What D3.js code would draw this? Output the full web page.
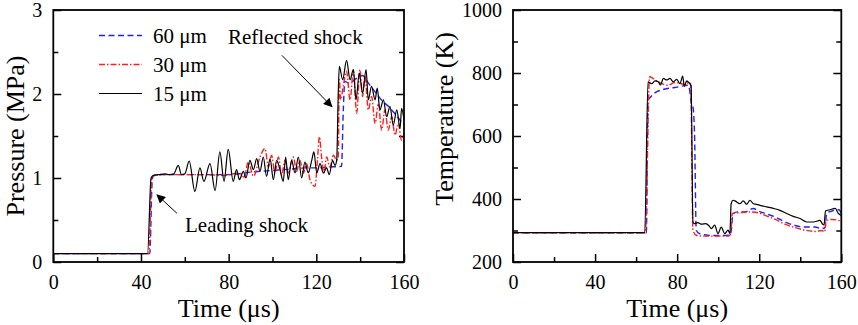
<!DOCTYPE html>
<html>
<head>
<meta charset="utf-8">
<script src="https://cdn.jsdelivr.net/npm/d3@7"></script>
<style>
body { margin: 0; background: #fff; }
svg text { font-family: "Liberation Serif", "Times New Roman", Tinos, "DejaVu Serif", serif !important; fill: #000; }
</style>
</head>
<body>
<script>
// ---- data: [time (µs), value] ----
var p60 = [[0,0.1],[44,0.1],[45.2,1.0],[46,1.03],[50,1.04],[60,1.04],[70,1.04],[80,1.04],[85,1.05],[90,1.07],[95,1.08],[100,1.09],[105,1.10],[110,1.11],[115,1.12],[120,1.12],[125,1.13],[131.5,1.14],[132.3,1.8],[133,2.15],[135,2.13],[138,2.18],[141,2.22],[144,2.12],[147,2.02],[150,1.92],[153,1.85],[156,1.76],[160,1.63]];
var p30 = [[0,0.1],[43.6,0.1],[45,1.0],[46,1.03],[50,1.04],[60,1.04],[70,1.04],[78,1.03],[82,1.05],[85,1.06],[87,1.01],[89,1.19],[91.3,1.02],[94.3,1.25],[96.6,1.35],[98.1,1.13],[99.6,1.27],[101.1,1.06],[102.7,1.25],[104.2,1.04],[105.7,1.21],[107.2,1.06],[109.5,1.25],[111,1.08],[112.5,1.21],[114.1,1.06],[115.6,1.17],[117.1,0.98],[119.4,0.90],[120.5,1.21],[121.4,1.49],[122.4,1.25],[123.5,1.06],[124.7,1.25],[126.2,1.13],[127.8,1.27],[129.3,1.21],[130,1.25],[130.5,2.17],[131.1,1.93],[132.3,2.1],[133.8,2.27],[135.4,1.93],[136.9,2.29],[138.4,1.77],[139.9,2.29],[141.1,1.97],[142.2,2.21],[143.7,1.81],[145.2,1.97],[146.8,1.65],[148.3,1.88],[149.8,1.57],[151.3,1.81],[152.8,1.57],[154.4,1.73],[155.9,1.51],[157.4,1.65],[158.9,1.45],[160,1.53]];
var p15 = [[0,0.1],[43,0.1],[44.6,1.0],[45.5,1.03],[48,1.04],[51,1.05],[53,1.04],[55,1.05],[57,1.15],[58.5,1.04],[60,1.05],[62,1.20],[64.6,0.84],[66.9,1.12],[68.7,0.96],[71.5,1.17],[73.8,0.85],[76,1.31],[77.9,0.96],[79.8,1.34],[82.1,0.96],[83.6,1.10],[84.9,0.98],[86.7,1.08],[87.9,1.0],[89.7,1.21],[91.3,1.10],[92.8,1.23],[94.3,1.08],[95.8,1.25],[97.3,1.02],[98.9,1.23],[100.4,0.98],[101.9,1.21],[103.4,1.10],[104.9,0.96],[106,1.25],[107.2,0.98],[108.7,1.21],[110.3,1.06],[111.8,1.25],[113.3,1.0],[114.8,1.19],[116.3,1.06],[117.9,1.21],[118.9,1.31],[120.2,1.06],[121.7,1.17],[123.2,1.06],[124.7,1.12],[125.9,1.04],[127.4,1.21],[128.5,1.15],[129.3,1.21],[130,2.0],[130.5,2.33],[132,2.17],[133.8,2.40],[135.4,2.17],[136.9,2.29],[138.1,1.93],[139.6,2.25],[141.1,2.01],[142.7,2.29],[143.7,1.93],[145.2,2.09],[146.8,1.93],[147.8,2.07],[149,1.81],[150.6,1.93],[152.1,1.73],[153.6,1.85],[155.1,1.63],[156.7,1.81],[158.2,1.59],[158.9,1.83],[160,1.69]];

var T60 = [[0,293],[65,293],[65.8,714],[67.1,724],[69.1,737],[72.3,746],[75.6,751],[78.8,754],[82.1,758],[85.3,761],[86.1,746],[86.9,703],[87.7,693],[88.5,600],[89.3,301],[90.9,290],[95,285],[100,284],[105.6,285],[106.4,300],[107.2,354],[109.6,359],[113,359],[117,370],[119.6,362],[122.9,354],[127.8,343],[132.6,327],[137.5,316],[142.4,311],[147.2,311],[150.5,306],[152.2,310],[152.8,354],[155.5,362],[158.8,366],[160,354]];
var T30 = [[0,293],[64.5,293],[66.6,788],[68.2,783],[70.7,772],[72.3,767],[75.6,761],[78.8,770],[82.1,766],[84.5,761],[85.6,772],[86.6,760],[87.7,301],[89.3,285],[93.4,282],[101.5,282],[105.1,282],[106.1,290],[106.9,354],[109.9,356],[114.7,359],[119.6,356],[122.9,348],[127.8,335],[132.6,320],[137.5,309],[142.4,301],[147.2,297],[150.5,300],[151.9,296],[152.6,332],[155.5,335],[160,330]];
var T15 = [[0,293],[64.2,293],[65.8,772],[67.6,766],[69.2,775],[70.8,772],[71.9,762],[73.3,783],[74.9,778],[76.5,783],[78.1,772],[79.8,780],[81.4,766],[82.7,790],[83.5,758],[84.6,775],[85.9,768],[86.8,760],[87.7,327],[88.5,322],[90,325],[92,320],[94,322],[95.5,315],[96.7,306],[98.3,317],[99.9,290],[101.5,311],[103.2,290],[104.8,301],[105.7,290],[106.3,385],[107.3,396],[108.2,394],[110.6,385],[112.2,394],[113.9,383],[115.5,396],[117.1,385],[118.7,383],[120.4,380],[123.6,375],[126.9,370],[130.1,364],[133.4,354],[136.6,345],[139.9,338],[143.1,327],[146.4,327],[149.6,332],[150.9,320],[151.6,318],[152.3,362],[154.5,366],[157,370],[158.6,354],[160,348]];

var xMajor = [0, 40, 80, 120, 160];
var xMinor = [20, 60, 100, 140];
var pMajor = [0, 1, 2, 3];
var pMinor = [0.5, 1.5, 2.5];
var tMajor = [200, 400, 600, 800, 1000];
var tMinor = [300, 500, 700, 900];
var legendLabels = ["60 μm", "30 μm", "15 μm"];
// annotation text and arrows in data units
var noteTexts = [["Reflected shock", 79.7, 2.60], ["Leading shock", 60.1, 0.36]];
var noteArrows = [[104.3, 2.46, 127.1, 1.85], [56.4, 0.58, 47.3, 0.80]];

var FONT = '"Liberation Serif", "Times New Roman", Tinos, "DejaVu Serif", serif';

var styles = [
  { color: "#1f1fff", dash: "6,3.5", w: 1.4 },
  { color: "#ff1f1f", dash: "6,2,1.5,2", w: 1.4 },
  { color: "#000", dash: null, w: 1.2 }
];

var svg = d3.select("body").append("svg")
  .attr("width", 858)
  .attr("height", 325)
  .attr("font-family", FONT);

svg.append("defs").append("marker")
  .attr("id", "arrow")
  .attr("viewBox", "0 0 10 10")
  .attr("refX", 9).attr("refY", 5)
  .attr("markerWidth", 13).attr("markerHeight", 9)
  .attr("markerUnits", "userSpaceOnUse")
  .attr("orient", "auto")
  .append("path")
  .attr("d", "M0,0 L10,5 L0,10 z")
  .attr("fill", "#000");

function panel(x0, x1, yDomain, yMaj, yMin, series, yTitle, yTitleX, yTitleY) {
  var top = 10, bottom = 262;
  var x = d3.scaleLinear().domain([0, 160]).range([x0, x1]);
  var y = d3.scaleLinear().domain(yDomain).range([bottom, top]);
  var g = svg.append("g");

  function addAxis(axis, tx, ty, labels) {
    var a = g.append("g")
      .attr("transform", "translate(" + tx + "," + ty + ")")
      .call(axis)
      .attr("font-family", FONT)
      .attr("font-size", 20);
    a.select(".domain").remove();
    a.selectAll("line").attr("stroke", "#000").attr("stroke-width", 1.5);
    a.selectAll("text").attr("fill", "#000").style("font-family", FONT);
    if (!labels) a.selectAll("text").remove();
    return a;
  }

  addAxis(d3.axisBottom(x).tickValues(xMajor).tickSize(-8).tickFormat(d3.format("d")), 0, bottom, true)
    .selectAll("text").attr("dy", "0.71em").attr("y", 13);
  addAxis(d3.axisBottom(x).tickValues(xMinor).tickSize(-5), 0, bottom, false);
  addAxis(d3.axisLeft(y).tickValues(yMaj).tickSize(-8).tickPadding(11).tickFormat(d3.format("d")), x0, 0, true);
  addAxis(d3.axisLeft(y).tickValues(yMin).tickSize(-5), x0, 0, false);
  addAxis(d3.axisRight(y).tickValues(yMaj).tickSize(-8), x1, 0, false);
  addAxis(d3.axisRight(y).tickValues(yMin).tickSize(-5), x1, 0, false);

  var line = d3.line()
    .x(function(d) { return x(d[0]); })
    .y(function(d) { return y(d[1]); })
    .curve(d3.curveMonotoneX);

  g.selectAll(".series")
    .data(series)
    .enter()
    .append("path")
    .attr("class", "series")
    .attr("d", function(d) { return line(d); })
    .attr("fill", "none")
    .attr("stroke", function(d, i) { return styles[i].color; })
    .attr("stroke-width", function(d, i) { return styles[i].w; })
    .attr("stroke-dasharray", function(d, i) { return styles[i].dash; })
    .attr("stroke-linejoin", "round");

  g.append("rect")
    .attr("x", x0).attr("y", top)
    .attr("width", x1 - x0).attr("height", bottom - top)
    .attr("fill", "none").attr("stroke", "#000").attr("stroke-width", 1.8);

  g.append("text")
    .attr("x", (x0 + x1) / 2).attr("y", 317)
    .attr("text-anchor", "middle")
    .attr("font-size", 26)
    .style("font-family", FONT)
    .text("Time (μs)");

  g.append("text")
    .attr("transform", "translate(" + yTitleX + "," + yTitleY + ") rotate(-90)")
    .attr("text-anchor", "middle")
    .attr("font-size", 26)
    .style("font-family", FONT)
    .text(yTitle);

  return { x: x, y: y, g: g };
}

var left = panel(53.3, 404, [0, 3], pMajor, pMinor, [p60, p30, p15], "Pressure (MPa)", 24, 136);
var right = panel(513, 841.3, [200, 1000], tMajor, tMinor, [T60, T30, T15], "Temperature (K)", 453, 119);

// legend
var leg = left.g.selectAll(".leg")
  .data(legendLabels)
  .enter()
  .append("g")
  .attr("class", "leg")
  .attr("transform", function(d, i) { return "translate(0," + (35.5 + i * 29) + ")"; });
leg.append("line")
  .attr("x1", 99).attr("x2", 142)
  .attr("stroke", function(d, i) { return styles[i].color; })
  .attr("stroke-width", function(d, i) { return styles[i].w; })
  .attr("stroke-dasharray", function(d, i) { return styles[i].dash; });
leg.append("text")
  .attr("x", 153).attr("y", 7)
  .attr("font-size", 21)
  .style("font-family", FONT)
  .text(function(d) { return d; });

// annotations
left.g.selectAll(".note")
  .data(noteTexts)
  .enter()
  .append("text")
  .attr("class", "note")
  .attr("x", function(d) { return left.x(d[1]); })
  .attr("y", function(d) { return left.y(d[2]); })
  .attr("font-size", 21)
  .style("font-family", FONT)
  .text(function(d) { return d[0]; });

left.g.selectAll(".arrow")
  .data(noteArrows)
  .enter()
  .append("line")
  .attr("class", "arrow")
  .attr("x1", function(d) { return left.x(d[0]); })
  .attr("y1", function(d) { return left.y(d[1]); })
  .attr("x2", function(d) { return left.x(d[2]); })
  .attr("y2", function(d) { return left.y(d[3]); })
  .attr("stroke", "#000")
  .attr("stroke-width", 1)
  .attr("marker-end", "url(#arrow)");
</script>
</body>
</html>
